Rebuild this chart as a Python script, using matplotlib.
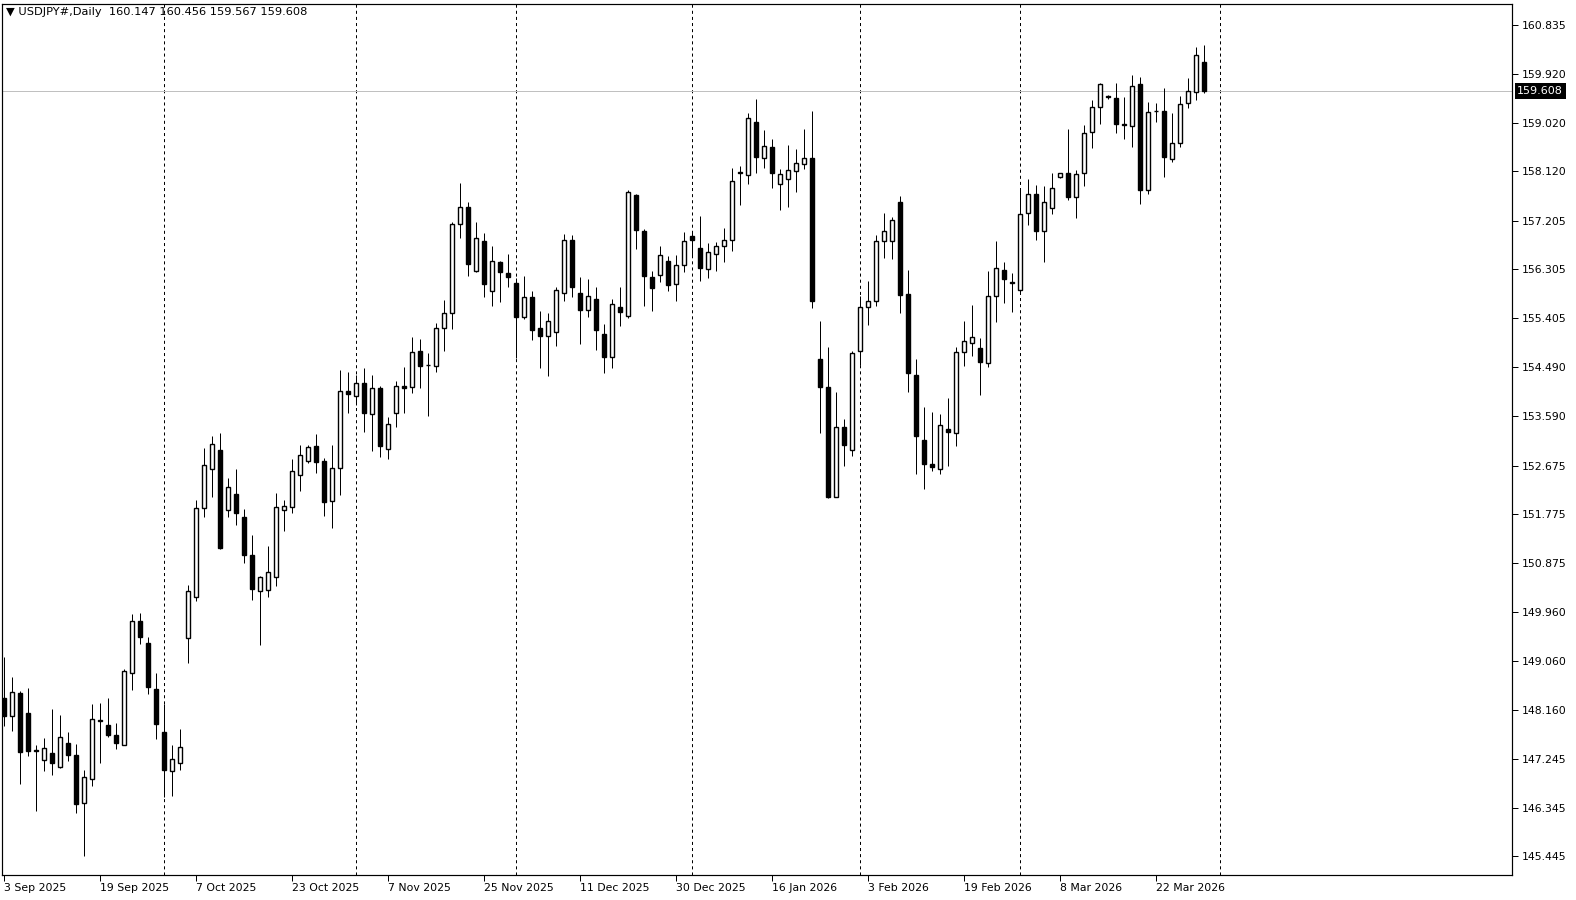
import matplotlib
matplotlib.use("Agg")
import matplotlib.pyplot as plt
import matplotlib.transforms as mtransforms

# ---------------- data (USDJPY daily candles) ----------------
opens = [148.367, 148.034, 148.466, 148.096, 147.410, 147.220, 147.349, 147.103, 147.535, 147.319,
         146.424, 146.868, 147.955, 147.868, 147.683, 147.510, 148.830, 149.792, 149.385, 148.534,
         147.738, 147.016, 147.164, 149.478, 150.236, 151.883, 152.605, 152.957, 151.846, 152.142,
         151.717, 151.014, 150.347, 150.366, 150.606, 151.846, 151.902, 152.494, 152.753, 153.031,
         152.753, 152.013, 152.623, 154.054, 153.956, 154.202, 153.623, 154.104, 152.975, 153.641,
         154.147, 154.122, 154.788, 154.530, 154.511, 155.214, 155.492, 157.145, 157.453, 156.269,
         156.824, 155.899, 156.435, 156.232, 156.047, 155.418, 155.788, 155.214, 155.066, 155.152,
         155.862, 156.843, 155.862, 155.559, 155.757, 155.103, 154.690, 155.609, 155.448, 157.681,
         157.015, 156.158, 156.195, 156.454, 156.028, 156.380, 156.917, 156.695, 156.306, 156.584,
         156.732, 156.843, 158.100, 158.046, 159.033, 158.360, 158.564, 157.892, 157.984, 158.120,
         158.249, 158.360, 154.641, 154.129, 152.100, 153.383, 152.957, 154.790, 155.615, 155.714,
         156.824, 156.836, 157.546, 155.843, 154.344, 153.141, 152.697, 152.605, 153.351, 153.271,
         154.770, 154.937, 154.844, 154.579, 155.806, 156.294, 156.070, 155.923, 157.342, 157.694,
         157.021, 157.447, 158.008, 158.088, 157.650, 158.082, 158.841, 159.303, 159.505, 159.470,
         158.990, 158.952, 159.729, 157.768, 159.245, 159.229, 158.341, 158.637, 159.377, 159.581,
         160.147]
highs = [149.138, 148.762, 148.503, 148.558, 147.504, 147.627, 148.170, 148.059, 147.738, 147.522,
         147.041, 148.262, 148.281, 148.373, 147.905, 148.910, 149.928, 149.946, 149.496, 148.830,
         148.256, 147.504, 147.794, 150.464, 152.037, 152.994, 153.222, 153.271, 152.438, 152.605,
         151.865, 151.390, 150.631, 151.186, 152.161, 152.037, 152.790, 153.049, 153.049, 153.259,
         152.815, 153.049, 154.443, 154.412, 154.350, 154.474, 154.344, 154.147, 153.579, 154.239,
         154.499, 155.054, 155.017, 154.758, 155.307, 155.738, 157.176, 157.897, 157.546, 157.176,
         156.972, 156.731, 156.466, 156.590, 156.139, 156.182, 155.899, 155.535, 155.492, 155.973,
         156.960, 156.941, 156.158, 156.127, 155.973, 155.294, 155.757, 155.979, 157.774, 157.700,
         157.052, 156.281, 156.738, 156.546, 156.565, 156.991, 157.022, 157.293, 156.788, 156.812,
         157.071, 158.182, 158.219, 159.206, 159.458, 158.885, 158.718, 158.163, 158.607, 158.527,
         158.903, 159.236, 155.350, 154.869, 154.036, 153.531, 154.795, 155.806, 156.090, 156.935,
         157.348, 157.274, 157.663, 156.294, 154.640, 153.752, 153.660, 153.623, 153.919, 154.869,
         155.350, 155.646, 155.035, 156.275, 156.830, 156.448, 156.238, 157.805, 157.977, 157.866,
         157.848, 158.088, 158.090, 158.903, 158.144, 158.977, 159.439, 159.760, 159.530, 159.748,
         159.489, 159.902, 159.865, 159.396, 159.377, 159.667, 159.199, 159.513, 159.840, 160.414,
         160.456]
lows = [147.861, 147.769, 146.788, 147.306, 146.289, 147.029, 146.955, 147.084, 147.208, 146.251,
        145.450, 146.751, 147.177, 147.646, 147.436, 147.498, 148.528, 149.379, 148.454, 147.621,
        146.548, 146.566, 147.047, 149.015, 150.175, 151.729, 152.099, 151.140, 151.717, 151.575,
        150.878, 150.187, 149.354, 150.249, 150.452, 151.470, 151.803, 152.210, 152.716, 152.543,
        151.741, 151.526, 152.136, 153.641, 153.800, 153.302, 152.944, 152.827, 152.802, 153.394,
        153.653, 154.024, 154.116, 153.598, 154.400, 154.801, 155.208, 156.879, 156.189, 156.260,
        155.800, 155.633, 155.707, 155.973, 154.659, 155.387, 155.004, 154.486, 154.338, 154.893,
        155.726, 155.788, 154.930, 155.430, 154.819, 154.381, 154.486, 155.263, 155.411, 156.682,
        155.627, 155.535, 156.078, 155.911, 155.726, 156.263, 156.541, 156.097, 156.152, 156.282,
        156.448, 156.652, 157.503, 157.892, 158.095, 158.182, 157.818, 157.411, 157.460, 157.744,
        158.163, 155.597, 153.284, 152.080, 152.090, 152.673, 152.858, 154.540, 155.282, 155.634,
        156.516, 156.497, 155.504, 154.042, 152.525, 152.247, 152.580, 152.525, 152.673, 153.043,
        154.523, 154.708, 153.987, 154.505, 155.337, 155.689, 155.523, 155.850, 157.126, 156.855,
        156.448, 157.336, 158.000, 157.595, 157.262, 157.854, 158.557, 159.001, 159.460, 158.829,
        158.717, 158.563, 157.508, 157.694, 159.038, 158.020, 158.286, 158.576, 159.285, 159.433,
        159.567]
closes = [148.040, 148.478, 147.380, 147.399, 147.390, 147.442, 147.177, 147.646, 147.325, 146.418,
          146.905, 147.979, 147.965, 147.683, 147.547, 148.873, 149.792, 149.496, 148.571, 147.898,
          147.047, 147.238, 147.461, 150.347, 151.883, 152.679, 153.068, 151.155, 152.284, 151.803,
          151.026, 150.397, 150.606, 150.711, 151.914, 151.933, 152.568, 152.864, 153.012, 152.747,
          152.007, 152.623, 154.054, 153.993, 154.196, 153.653, 154.104, 153.037, 153.438, 154.141,
          154.116, 154.770, 154.523, 154.540, 155.214, 155.492, 157.145, 157.453, 156.398, 156.879,
          156.028, 156.460, 156.263, 156.158, 155.418, 155.788, 155.189, 155.066, 155.344, 155.917,
          156.843, 155.985, 155.559, 155.806, 155.189, 154.690, 155.658, 155.522, 157.731, 157.040,
          156.189, 155.967, 156.565, 156.022, 156.380, 156.824, 156.855, 156.337, 156.621, 156.738,
          156.843, 157.935, 158.090, 159.101, 158.391, 158.583, 158.095, 158.064, 158.138, 158.268,
          158.360, 155.727, 154.135, 152.093, 153.383, 153.062, 154.752, 155.618, 155.714, 156.824,
          157.009, 157.213, 155.837, 154.381, 153.228, 152.710, 152.654, 153.419, 153.290, 154.770,
          154.974, 155.048, 154.597, 155.806, 156.324, 156.121, 156.060, 157.323, 157.694, 157.021,
          157.546, 157.805, 158.082, 157.650, 158.064, 158.822, 159.303, 159.729, 159.490, 158.989,
          158.980, 159.692, 157.768, 159.223, 159.240, 158.378, 158.637, 159.359, 159.600, 160.266,
          159.608]

date_labels = ["3 Sep 2025", "19 Sep 2025", "7 Oct 2025", "23 Oct 2025", "7 Nov 2025",
               "25 Nov 2025", "11 Dec 2025", "30 Dec 2025", "16 Jan 2026", "3 Feb 2026",
               "19 Feb 2026", "8 Mar 2026", "22 Mar 2026"]
label_step = 12
month_start_bars = [20, 44, 64, 86, 107, 127, 152]
price_ticks = [160.835, 159.920, 159.020, 158.120, 157.205, 156.305, 155.405, 154.490, 153.590,
               152.675, 151.775, 150.875, 149.960, 149.060, 148.160, 147.245, 146.345, 145.445]
symbol = "USDJPY#,Daily"

# ---------------- figure ----------------
plt.rcParams['font.family'] = ['DejaVu Sans']
plt.rcParams['lines.scale_dashes'] = False
W, H = 1576, 900
PX = 72.0 / 100.0  # one pixel in points

fig = plt.figure(figsize=(W / 100, H / 100), dpi=100, facecolor='white')
ax = fig.add_axes([2 / W, 25 / H, 1510 / W, 871 / H])
ax.set_facecolor('white')

n = len(opens)
xs = list(range(n))

ax.set_xlim(-0.25, -0.25 + 1510 / 8.0)
ax.set_ylim(161.29 - 875 / 54.04, 161.29 - 4 / 54.04)

# period separators
for b in month_start_bars:
    ax.axvline(b, color='black', lw=PX, ls=(0, (2.2, 2.2)), zorder=1)

# bid line
ax.axhline(closes[-1], color='#c0c0c0', lw=PX, zorder=1.5)

# wicks
ax.vlines(xs, lows, highs, color='black', lw=PX, zorder=2)
# bodies
for i in xs:
    o, c = opens[i], closes[i]
    bull = c >= o
    ax.bar(i, abs(c - o), bottom=min(o, c), width=0.52,
           color='white' if bull else 'black', edgecolor='black',
           linewidth=1.0, zorder=3)

# axes styling
for s in ax.spines.values():
    s.set_color('black')
    s.set_linewidth(PX * 1.2)

ax.yaxis.tick_right()
ax.set_yticks(price_ticks)
ax.set_yticklabels([f"{v:.3f}" for v in price_ticks])
ax.tick_params(axis='y', direction='out', length=4, width=PX, pad=3,
               labelsize=7.8, colors='black')

ax.set_xticks(list(range(0, n, label_step)))
ax.set_xticklabels(date_labels)
for lbl in ax.get_xticklabels():
    lbl.set_horizontalalignment('left')
ax.tick_params(axis='x', direction='out', length=4, width=PX, pad=2,
               labelsize=7.8, colors='black')

# current price label on the right axis
trans = mtransforms.blended_transform_factory(ax.transAxes, ax.transData)
ax.text(1.0035, closes[-1], f"{closes[-1]:.3f}", transform=trans, color='white',
        fontsize=8.0, ha='left', va='center', zorder=10, clip_on=False,
        bbox=dict(facecolor='black', edgecolor='none', pad=2.0))

# header
fig.text(6 / W, 1 - 12 / H,
         f"\u25BC {symbol}  {opens[-1]:.3f} {highs[-1]:.3f} {lows[-1]:.3f} {closes[-1]:.3f}",
         fontsize=8.2, color='black', ha='left', va='center')

fig.savefig("out.png", dpi=100, facecolor='white')
